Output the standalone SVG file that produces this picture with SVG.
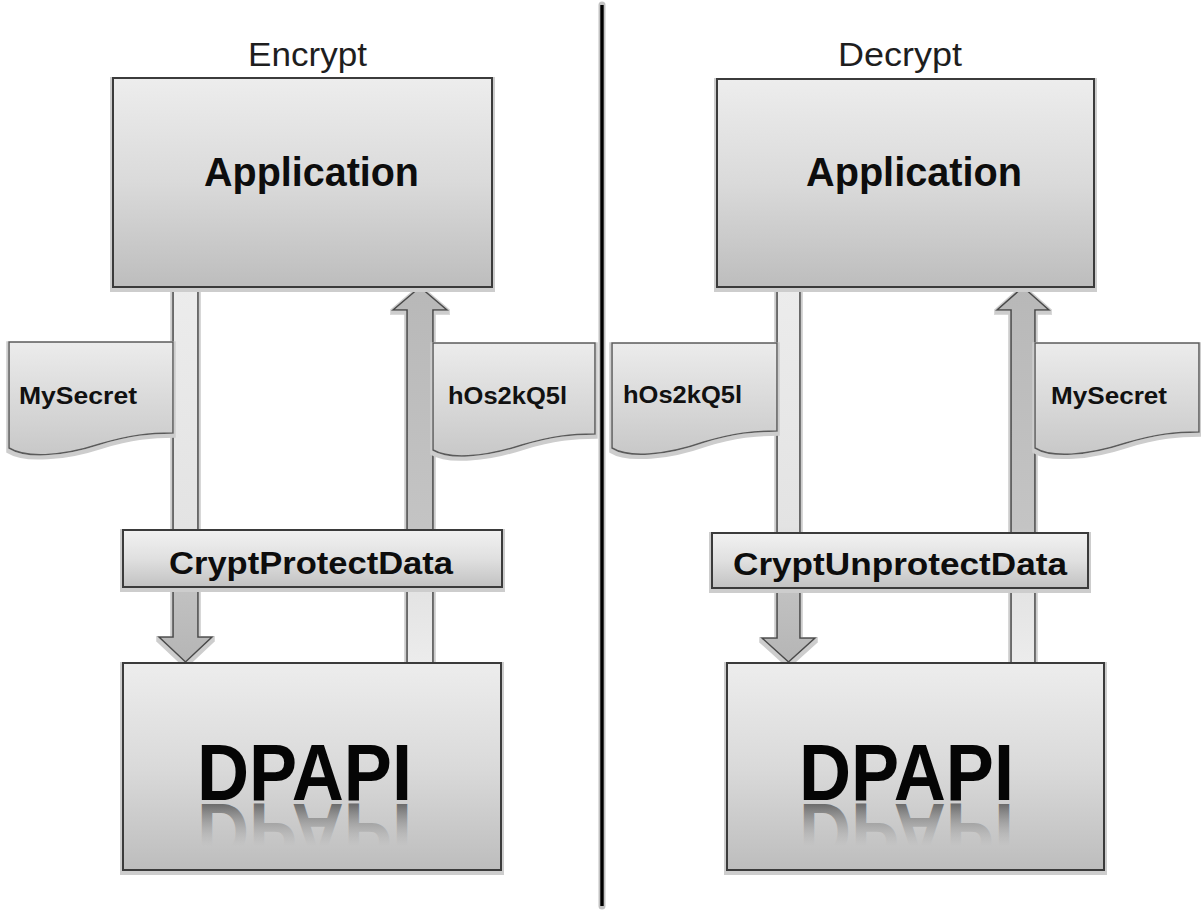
<svg xmlns="http://www.w3.org/2000/svg" width="1201" height="913" viewBox="0 0 1201 913">
  <defs>
    <style>
      .box { stroke: #3a3a3a; stroke-width: 2; filter: url(#halo); }
      .doc { stroke: #5a5a5a; stroke-width: 1.5; fill: url(#docFill); filter: url(#halo); }
      .title { font-family: "Liberation Sans", Arial, sans-serif; font-size: 33px; fill: #1e1e1e; }
      .app { font-family: "Liberation Sans", Arial, sans-serif; font-weight: bold; font-size: 40px; fill: #0d0d0d; }
      .call { font-family: "Liberation Sans", Arial, sans-serif; font-weight: bold; font-size: 32px; fill: #0d0d0d; }
      .data { font-family: "Liberation Sans", Arial, sans-serif; font-weight: bold; font-size: 23px; fill: #111; }
      .big { font-family: "Liberation Sans", Arial, sans-serif; font-weight: bold; font-size: 80px; }
      .arrow { stroke: #4a4a4a; stroke-width: 1.6; stroke-linejoin: miter; filter: url(#halo); }
    </style>
    <linearGradient id="boxFill" x1="0" y1="0" x2="0" y2="1">
      <stop offset="0" stop-color="#ededed"/>
      <stop offset="0.5" stop-color="#dadada"/>
      <stop offset="1" stop-color="#bdbdbd"/>
    </linearGradient>
    <linearGradient id="barFill" x1="0" y1="0" x2="0" y2="1">
      <stop offset="0" stop-color="#f2f2f2"/>
      <stop offset="0.5" stop-color="#e0e0e0"/>
      <stop offset="1" stop-color="#c2c2c2"/>
    </linearGradient>
    <linearGradient id="docFill" x1="0" y1="0" x2="0" y2="1">
      <stop offset="0" stop-color="#ececec"/>
      <stop offset="1" stop-color="#c8c8c8"/>
    </linearGradient>
    <!-- downward flow: light above the call bar, darker below it -->
    <linearGradient id="downFill" gradientUnits="userSpaceOnUse" x1="0" y1="287" x2="0" y2="662">
      <stop offset="0" stop-color="#ececec"/>
      <stop offset="0.64" stop-color="#e3e3e3"/>
      <stop offset="0.8" stop-color="#c2c2c2"/>
      <stop offset="1" stop-color="#b5b5b5"/>
    </linearGradient>
    <!-- upward flow: light near DPAPI, darker toward the application -->
    <linearGradient id="upFill" gradientUnits="userSpaceOnUse" x1="0" y1="663" x2="0" y2="287">
      <stop offset="0" stop-color="#ececec"/>
      <stop offset="0.2" stop-color="#e3e3e3"/>
      <stop offset="0.36" stop-color="#c4c4c4"/>
      <stop offset="1" stop-color="#b8b8b8"/>
    </linearGradient>
    <!-- reflection fade for the DPAPI label (pre-flip coordinates) -->
    <linearGradient id="fade" gradientUnits="userSpaceOnUse" x1="0" y1="800" x2="0" y2="758">
      <stop offset="0" stop-color="#4a4a4a" stop-opacity="0.75"/>
      <stop offset="1" stop-color="#9a9a9a" stop-opacity="0"/>
    </linearGradient>
    <!-- label shapes reused for the mirrored reflections -->
    <text id="dpapiWordL" class="big" x="197" y="800" textLength="215" lengthAdjust="spacingAndGlyphs">DPAPI</text>
    <text id="dpapiWordR" class="big" x="799" y="800" textLength="215" lengthAdjust="spacingAndGlyphs">DPAPI</text>
    <filter id="halo" x="-5%" y="-5%" width="110%" height="115%">
      <feMorphology in="SourceAlpha" operator="dilate" radius="1.6" result="grow"/>
      <feOffset in="grow" dx="0" dy="1.5" result="shift"/>
      <feFlood flood-color="#cdcdcd"/>
      <feComposite in2="shift" operator="in" result="edge"/>
      <feMerge>
        <feMergeNode in="edge"/>
        <feMergeNode in="SourceGraphic"/>
      </feMerge>
    </filter>
  </defs>

  <rect width="1201" height="913" fill="#ffffff"/>

  <!-- divider between the two halves -->
  <g id="divider">
    <line x1="602" y1="5" x2="602" y2="906" stroke="#c2c2c2" stroke-width="7" stroke-linecap="round"/>
    <line x1="602" y1="5" x2="602" y2="906" stroke="#000" stroke-width="3.4"/>
  </g>

  <!-- data-flow arrows -->
  <g id="connectors">
    <path id="enc-down" class="arrow" fill="url(#downFill)" d="M173,287 H198 V637 H212 L185.5,662 L159,637 H173 Z"/>
    <path id="enc-up" class="arrow" fill="url(#upFill)" d="M407,663 V310 H393 L420,287 L447,310 H433 V663 Z"/>
    <path id="dec-down" class="arrow" fill="url(#downFill)" d="M777,287 H800 V638 H815 L788.5,662 L762,638 H777 Z"/>
    <path id="dec-up" class="arrow" fill="url(#upFill)" d="M1011,663 V310 H997 L1023,287 L1049,310 H1035 V663 Z"/>
  </g>

  <!-- Encrypt side -->
  <text class="title" x="248" y="66" textLength="119" lengthAdjust="spacingAndGlyphs">Encrypt</text>

  <g id="enc-application">
    <rect class="box" x="113" y="78" width="379" height="209" fill="url(#boxFill)"/>
    <text class="app" x="204" y="186" textLength="215" lengthAdjust="spacingAndGlyphs">Application</text>
  </g>

  <g id="enc-plain">
    <path class="doc" d="M9,342 H173 V433 C150,433 130,435 100,444 C60,457 25,458 9,448 Z"/>
    <text class="data" x="19" y="404" textLength="118" lengthAdjust="spacingAndGlyphs">MySecret</text>
  </g>

  <g id="enc-cipher">
    <path class="doc" d="M433,343 H595 V434 C572,434 552,436 522,445 C482,458 448,459 433,450 Z"/>
    <text class="data" x="448" y="404" textLength="119" lengthAdjust="spacingAndGlyphs">hOs2kQ5l</text>
  </g>

  <g id="enc-call">
    <rect class="box" x="123" y="530" width="379" height="57" fill="url(#barFill)"/>
    <text class="call" x="169" y="574" textLength="284" lengthAdjust="spacingAndGlyphs">CryptProtectData</text>
  </g>

  <g id="enc-dpapi">
    <rect class="box" x="123" y="663" width="378" height="207" fill="url(#boxFill)"/>
    <text class="big" fill="#050505" x="197" y="800" textLength="215" lengthAdjust="spacingAndGlyphs">DPAPI</text>
    <use href="#dpapiWordL" fill="url(#fade)" transform="translate(0,1604) scale(1,-1)"/>
  </g>

  <!-- Decrypt side -->
  <text class="title" x="838" y="66" textLength="124" lengthAdjust="spacingAndGlyphs">Decrypt</text>

  <g id="dec-application">
    <rect class="box" x="717" y="79" width="377" height="208" fill="url(#boxFill)"/>
    <text class="app" x="806" y="186" textLength="216" lengthAdjust="spacingAndGlyphs">Application</text>
  </g>

  <g id="dec-cipher">
    <path class="doc" d="M612,343 H777 V431 C754,431 734,433 704,442 C664,456 628,458 612,448 Z"/>
    <text class="data" x="623" y="403" textLength="119" lengthAdjust="spacingAndGlyphs">hOs2kQ5l</text>
  </g>

  <g id="dec-plain">
    <path class="doc" d="M1035,343 H1199 V432 C1176,432 1156,434 1126,443 C1086,456 1051,458 1035,448 Z"/>
    <text class="data" x="1051" y="404" textLength="116" lengthAdjust="spacingAndGlyphs">MySecret</text>
  </g>

  <g id="dec-call">
    <rect class="box" x="712" y="533" width="376" height="55" fill="url(#barFill)"/>
    <text class="call" x="733" y="575" textLength="334" lengthAdjust="spacingAndGlyphs">CryptUnprotectData</text>
  </g>

  <g id="dec-dpapi">
    <rect class="box" x="727" y="663" width="377" height="207" fill="url(#boxFill)"/>
    <text class="big" fill="#050505" x="799" y="800" textLength="215" lengthAdjust="spacingAndGlyphs">DPAPI</text>
    <use href="#dpapiWordR" fill="url(#fade)" transform="translate(0,1604) scale(1,-1)"/>
  </g>
</svg>
